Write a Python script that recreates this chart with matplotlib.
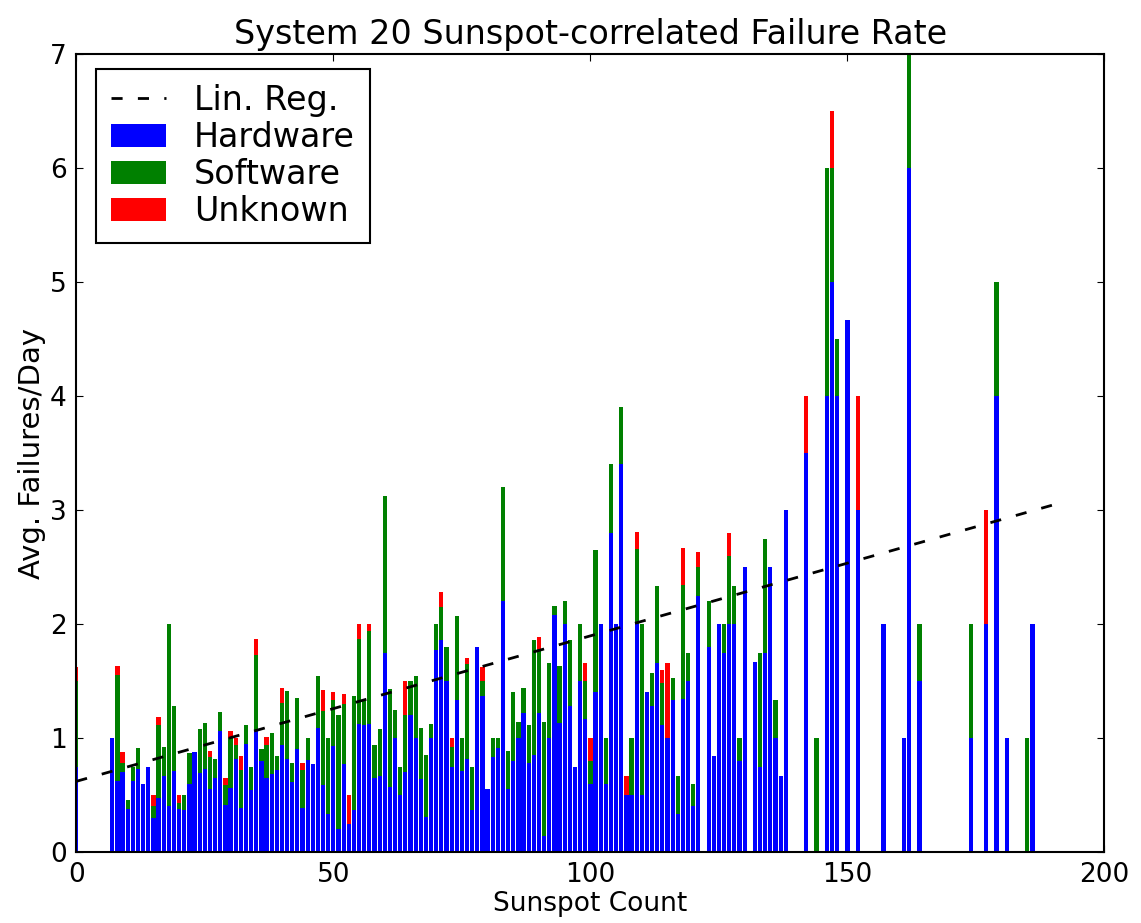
import numpy as np
import matplotlib
matplotlib.use("Agg")
import matplotlib.pyplot as plt
from matplotlib.patches import Patch
from matplotlib.lines import Line2D

plt.rcParams.update({
    "font.family": "DejaVu Sans",
    "font.size": 19,
    "xtick.direction": "in",
    "ytick.direction": "in",
    "xtick.top": True,
    "ytick.right": True,
    "xtick.major.size": 5,
    "ytick.major.size": 5,
    "axes.linewidth": 1.5,
})

# sunspot count -> avg failures/day, split by cause
sunspots = [0, 7, 8, 9, 10, 11, 12, 13, 14, 15, 16, 17, 18, 19, 20, 21, 22, 23, 24, 25,
            26, 27, 28, 29, 30, 31, 32, 33, 34, 35, 36, 37, 38, 39, 40, 41, 42, 43, 44, 45,
            46, 47, 48, 49, 50, 51, 52, 53, 54, 55, 56, 57, 58, 59, 60, 61, 62, 63, 64, 65,
            66, 67, 68, 69, 70, 71, 72, 73, 74, 75, 76, 77, 78, 79, 80, 81, 82, 83, 84, 85,
            86, 87, 88, 89, 90, 91, 92, 93, 94, 95, 96, 97, 98, 99, 100, 101, 102, 103, 104, 105,
            106, 107, 108, 109, 110, 111, 112, 113, 114, 115, 116, 117, 118, 119, 120, 121, 123, 124, 125, 126,
            127, 128, 129, 130, 132, 133, 134, 135, 136, 137, 138, 142, 144, 146, 147, 148, 150, 152, 157, 161,
            162, 164, 174, 177, 179, 181, 185, 186]

hardware = [0.75, 1.00, 0.62, 0.70, 0.38, 0.62, 0.73, 0.60, 0.75, 0.30, 0.47, 0.67, 0.40, 0.71, 0.38, 0.37, 0.60, 0.88, 0.69, 0.73,
            0.55, 0.65, 1.06, 0.41, 0.56, 0.82, 0.39, 0.95, 0.54, 1.06, 0.80, 0.65, 0.68, 0.72, 0.94, 0.82, 0.61, 0.90, 0.39, 0.81,
            0.77, 1.09, 0.59, 0.33, 0.93, 0.20, 0.77, 0.25, 0.37, 1.12, 1.11, 1.12, 0.65, 0.67, 1.75, 0.57, 1.00, 0.50, 0.70, 1.20,
            1.00, 0.64, 0.31, 1.00, 1.77, 1.86, 1.50, 0.75, 1.33, 0.71, 0.82, 0.37, 1.80, 1.37, 0.55, 0.83, 0.91, 2.20, 0.55, 0.80,
            1.00, 1.22, 0.78, 0.85, 1.22, 0.14, 1.00, 2.08, 1.13, 2.00, 1.28, 0.75, 1.50, 1.17, 0.60, 1.40, 2.00, 0.60, 2.80, 2.00,
            3.40, 0.50, 0.50, 2.00, 0.50, 1.40, 1.28, 1.66, 1.11, 1.00, 1.33, 0.33, 1.34, 1.50, 0.40, 2.25, 1.80, 0.84, 2.00, 1.75,
            2.00, 2.00, 0.80, 2.50, 1.67, 0.75, 1.75, 2.50, 1.00, 0.67, 3.00, 3.50, 0.00, 4.00, 5.00, 4.00, 4.67, 3.00, 2.00, 1.00,
            6.00, 1.50, 1.00, 2.00, 4.00, 1.00, 0.00, 2.00]

software = [0.75, 0.00, 0.93, 0.08, 0.08, 0.13, 0.18, 0.00, 0.00, 0.10, 0.64, 0.25, 1.60, 0.57, 0.05, 0.13, 0.27, 0.00, 0.39, 0.40,
            0.28, 0.17, 0.17, 0.18, 0.44, 0.12, 0.33, 0.16, 0.21, 0.67, 0.10, 0.29, 0.36, 0.12, 0.37, 0.59, 0.17, 0.45, 0.33, 0.19,
            0.00, 0.45, 0.65, 0.67, 0.40, 1.00, 0.53, 0.00, 1.00, 0.75, 0.22, 0.82, 0.29, 0.41, 1.37, 0.86, 0.25, 0.25, 0.50, 0.30,
            0.54, 0.45, 0.54, 0.12, 0.23, 0.29, 0.30, 0.17, 0.74, 0.29, 0.83, 0.38, 0.00, 0.13, 0.00, 0.17, 0.09, 1.00, 0.34, 0.60,
            0.14, 0.22, 0.33, 1.01, 0.56, 1.00, 0.66, 0.08, 0.50, 0.20, 0.58, 0.00, 0.50, 0.33, 0.20, 1.25, 0.00, 0.40, 0.60, 0.00,
            0.50, 0.00, 0.50, 0.66, 1.50, 0.00, 0.29, 0.67, 0.37, 0.00, 0.20, 0.34, 1.00, 0.25, 0.20, 0.25, 0.40, 0.00, 0.00, 0.25,
            0.60, 0.33, 0.20, 0.00, 0.00, 1.00, 1.00, 0.00, 0.33, 0.00, 0.00, 0.00, 1.00, 2.00, 1.00, 0.50, 0.00, 0.00, 0.00, 0.00,
            1.00, 0.50, 1.00, 0.00, 1.00, 0.00, 1.00, 0.00]

unknown = [0.12, 0.00, 0.08, 0.10, 0.00, 0.00, 0.00, 0.00, 0.00, 0.10, 0.07, 0.00, 0.00, 0.00, 0.07, 0.00, 0.00, 0.00, 0.00, 0.00,
           0.06, 0.00, 0.00, 0.06, 0.06, 0.06, 0.12, 0.00, 0.00, 0.14, 0.00, 0.07, 0.00, 0.00, 0.13, 0.00, 0.00, 0.00, 0.06, 0.00,
           0.00, 0.00, 0.18, 0.00, 0.07, 0.00, 0.09, 0.25, 0.00, 0.13, 0.00, 0.06, 0.00, 0.00, 0.00, 0.00, 0.00, 0.00, 0.30, 0.00,
           0.00, 0.00, 0.00, 0.00, 0.00, 0.13, 0.00, 0.08, 0.00, 0.00, 0.05, 0.00, 0.00, 0.12, 0.00, 0.00, 0.00, 0.00, 0.00, 0.00,
           0.00, 0.00, 0.00, 0.00, 0.11, 0.00, 0.00, 0.00, 0.00, 0.00, 0.00, 0.00, 0.00, 0.16, 0.20, 0.00, 0.00, 0.00, 0.00, 0.00,
           0.00, 0.17, 0.00, 0.15, 0.00, 0.00, 0.00, 0.00, 0.12, 0.66, 0.00, 0.00, 0.33, 0.00, 0.00, 0.13, 0.00, 0.00, 0.00, 0.00,
           0.20, 0.00, 0.00, 0.00, 0.00, 0.00, 0.00, 0.00, 0.00, 0.00, 0.00, 0.50, 0.00, 0.00, 0.50, 0.00, 0.00, 1.00, 0.00, 0.00,
           0.00, 0.00, 0.00, 1.00, 0.00, 0.00, 0.00, 0.00]

# linear regression endpoints
reg_x = [0, 192]
reg_y = [0.62, 3.07]


def main():
    x = np.array(sunspots)
    hw = np.array(hardware)
    sw = np.array(software)
    uk = np.array(unknown)

    fig = plt.figure(figsize=(11.41, 9.23), dpi=100)
    ax = fig.add_axes([0.0669, 0.0769, 0.9011, 0.8646])

    w = 0.82
    ax.bar(x, hw, w, color="#0000ff", linewidth=0, zorder=2)
    ax.bar(x, sw, w, bottom=hw, color="#008000", linewidth=0, zorder=2)
    ax.bar(x, uk, w, bottom=hw + sw, color="#ff0000", linewidth=0, zorder=2)
    ax.plot(reg_x, reg_y, color="black", lw=2, dashes=(4, 5.5), zorder=3)

    ax.set_xlim(0, 200)
    ax.set_ylim(0, 7)
    ax.set_xticks([0, 50, 100, 150, 200])
    ax.set_yticks(range(8))
    ax.tick_params(axis="x", pad=7, labelsize=19)
    ax.tick_params(axis="y", pad=7, labelsize=19)
    ax.set_xlabel("Sunspot Count", fontsize=19, labelpad=2)
    ax.set_ylabel("Avg. Failures/Day", fontsize=21, labelpad=3)
    ax.set_title("System 20 Sunspot-correlated Failure Rate", fontsize=24, pad=7)

    handles = [Line2D([0], [0], color="black", lw=2, dashes=(4, 5.5)),
               Patch(facecolor="#0000ff"),
               Patch(facecolor="#008000"),
               Patch(facecolor="#ff0000")]
    labels = ["Lin. Reg.", "Hardware", "Software", "Unknown"]
    leg = ax.legend(handles, labels, loc="upper left", bbox_to_anchor=(0.019, 0.981),
                    borderaxespad=0, fontsize=24, fancybox=False, framealpha=1,
                    handlelength=1.65, handletextpad=0.85, labelspacing=0.12,
                    borderpad=0.45)
    leg.get_frame().set_edgecolor("black")
    leg.get_frame().set_linewidth(1.5)

    fig.savefig("out.png", dpi=100)
    plt.close(fig)


if __name__ == "__main__":
    main()
